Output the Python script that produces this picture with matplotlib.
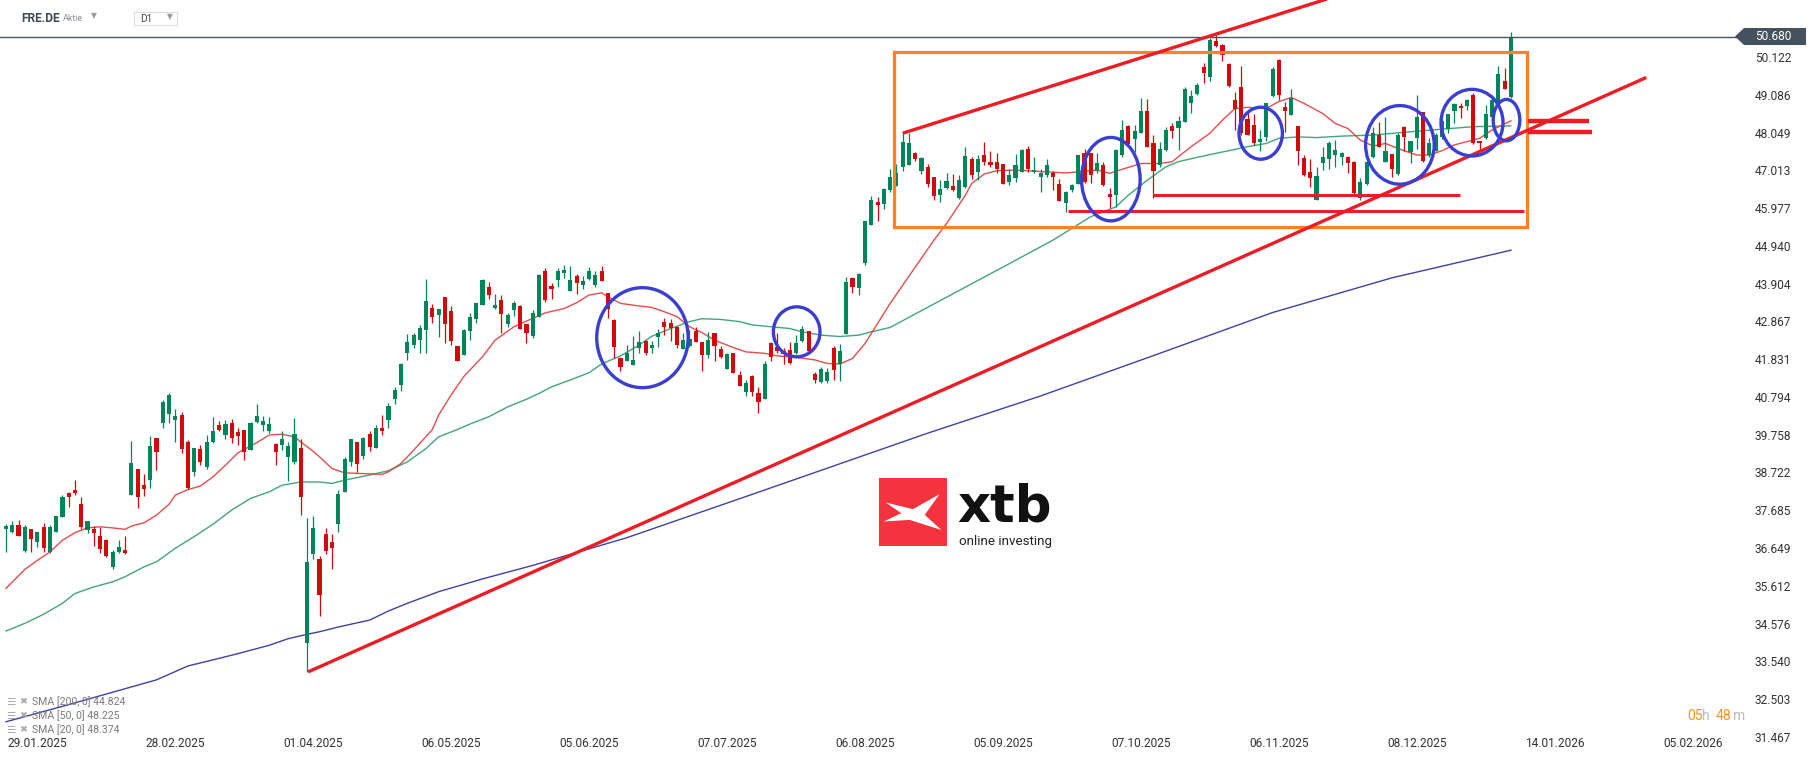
import matplotlib
matplotlib.use('Agg')
import matplotlib.pyplot as plt
from matplotlib.patches import Rectangle, Ellipse, Polygon

plt.rcParams['font.family'] = ['Roboto', 'DejaVu Sans']

# daily candles FRE.DE, index 0 = first bar on the chart
opens = [37.18, 37.09, 37.29, 36.57, 37.16, 36.81, 37.22, 36.54, 37.09, 37.50,
         38.17, 38.24, 37.85, 37.14, 37.17, 36.97, 36.87, 36.13, 36.53, 36.59,
         38.10, 38.81, 38.37, 38.52, 39.66, 40.08, 40.32, 40.17, 40.30, 39.55,
         38.74, 39.36, 38.88, 39.56, 40.02, 39.75, 40.09, 39.83, 39.88, 39.33,
         40.10, 40.03, 39.86, 39.50, 39.47, 39.15, 39.01, 39.38, 34.03, 36.48,
         36.34, 37.02, 36.80, 37.30, 38.19, 39.01, 39.55, 39.17, 39.77, 39.40,
         39.94, 40.16, 40.74, 41.13, 42.01, 42.21, 42.36, 42.63, 43.23, 43.04,
         43.53, 43.14, 42.19, 41.95, 42.61, 42.94, 43.33, 43.82, 43.24, 43.45,
         42.79, 43.18, 43.29, 42.79, 42.47, 43.00, 44.25, 43.84, 44.00, 44.20,
         43.71, 44.11, 43.87, 44.04, 43.87, 44.25, 43.64, 42.90, 41.86, 41.79,
         41.68, 42.15, 42.32, 42.15, 42.45, 42.85, 42.82, 42.72, 42.11, 42.20,
         42.60, 42.30, 41.95, 42.55, 42.12, 41.57, 42.00, 41.39, 40.94, 41.37,
         40.89, 40.75, 42.28, 42.17, 42.06, 42.08, 42.00, 42.34, 42.59, 41.42,
         41.21, 41.24, 42.13, 41.69, 42.53, 44.07, 43.79, 44.48, 45.52, 46.14,
         46.08, 46.47, 46.59, 47.11, 47.17, 47.48, 47.00, 47.11, 46.82, 46.33,
         46.52, 46.58, 46.24, 46.56, 47.31, 46.97, 47.43, 47.23, 47.23, 47.18,
         46.70, 46.79, 46.97, 47.59, 46.96, 46.84, 46.88, 46.95, 46.64, 46.12,
         46.47, 46.65, 47.50, 47.48, 47.00, 47.16, 46.36, 46.33, 47.43, 48.23,
         47.87, 48.04, 48.65, 47.77, 47.16, 47.57, 48.23, 48.16, 48.35, 48.85,
         49.11, 49.84, 49.58, 50.56, 50.45, 49.93, 48.94, 49.29, 48.41, 48.25,
         47.80, 47.93, 49.05, 50.04, 48.74, 48.53, 48.23, 47.36, 46.96, 46.21,
         47.20, 47.31, 47.43, 47.39, 47.39, 47.25, 46.24, 46.63, 47.37, 47.98,
         47.25, 47.45, 46.90, 48.19, 47.52, 47.89, 48.60, 47.43, 47.55, 47.92,
         48.14, 48.65, 48.78, 48.79, 49.08, 47.82, 47.89, 48.48, 48.90, 49.46,
         49.03]
highs = [37.32, 37.39, 37.41, 37.29, 37.17, 37.10, 37.34, 37.28, 37.53, 38.10,
         38.19, 38.51, 38.04, 37.39, 37.25, 37.23, 36.90, 36.59, 36.86, 36.97,
         39.58, 38.81, 38.67, 39.72, 39.67, 40.71, 40.91, 40.45, 40.38, 39.61,
         39.40, 39.47, 39.75, 40.23, 40.13, 40.16, 40.18, 39.93, 39.88, 40.11,
         40.60, 40.27, 40.25, 39.54, 39.87, 39.56, 40.22, 39.65, 37.48, 37.52,
         36.43, 37.20, 37.02, 38.24, 39.15, 39.64, 39.56, 39.70, 39.87, 40.02,
         40.30, 40.62, 41.07, 41.73, 42.52, 42.54, 42.78, 44.03, 43.34, 43.21,
         43.54, 43.29, 42.20, 42.67, 43.11, 43.38, 44.03, 43.94, 43.62, 43.58,
         43.09, 43.43, 43.31, 42.80, 43.18, 44.16, 44.34, 43.93, 44.34, 44.41,
         44.39, 44.18, 44.11, 44.37, 44.25, 44.39, 43.65, 42.92, 41.90, 42.22,
         42.46, 42.60, 42.35, 42.34, 42.67, 42.95, 42.92, 42.73, 42.56, 42.63,
         42.72, 42.31, 42.58, 42.56, 42.19, 42.01, 42.01, 41.51, 41.27, 41.39,
         41.07, 41.79, 42.29, 42.54, 42.13, 42.29, 42.49, 42.74, 42.61, 41.49,
         41.62, 41.58, 42.19, 42.24, 44.09, 44.09, 44.20, 45.63, 46.31, 46.29,
         46.52, 47.04, 47.18, 48.03, 48.03, 47.52, 47.39, 47.18, 46.84, 46.74,
         46.93, 46.91, 46.88, 47.66, 47.39, 47.43, 47.79, 47.55, 47.50, 47.19,
         47.06, 47.45, 47.61, 47.68, 47.39, 47.04, 47.31, 47.00, 46.77, 46.45,
         46.63, 47.44, 47.61, 47.50, 47.48, 47.25, 46.52, 47.59, 48.39, 48.25,
         48.25, 48.99, 48.96, 47.98, 47.80, 48.19, 48.30, 48.50, 49.31, 49.22,
         49.40, 49.97, 50.63, 50.73, 50.47, 49.97, 49.17, 49.87, 48.62, 48.56,
         48.12, 48.87, 49.86, 50.06, 48.90, 49.23, 48.24, 47.43, 47.31, 47.11,
         47.66, 47.82, 47.84, 47.52, 47.40, 47.27, 46.79, 47.27, 48.21, 48.35,
         48.48, 47.46, 48.04, 48.23, 47.83, 49.08, 48.62, 47.89, 48.03, 48.44,
         48.56, 48.85, 48.87, 48.96, 49.14, 47.83, 48.80, 49.08, 49.87, 49.81,
         50.80]
lows = [36.54, 37.05, 36.97, 36.54, 36.54, 36.68, 36.54, 36.52, 37.09, 37.49,
        37.78, 38.10, 37.17, 37.07, 36.70, 36.52, 36.41, 36.07, 36.50, 36.47,
        38.10, 37.75, 38.08, 38.30, 38.79, 39.93, 40.08, 39.56, 39.26, 38.26,
        38.62, 38.92, 38.81, 39.54, 39.87, 39.65, 39.52, 39.47, 39.06, 39.33,
        40.07, 39.87, 39.81, 38.92, 39.35, 38.48, 38.95, 37.55, 33.25, 36.34,
        34.78, 36.48, 36.07, 37.09, 38.18, 38.90, 38.73, 39.08, 39.32, 39.40,
        39.75, 39.93, 40.61, 40.95, 41.81, 42.15, 42.01, 42.01, 42.83, 42.45,
        42.28, 42.22, 41.78, 41.94, 42.35, 42.81, 43.32, 43.48, 43.21, 42.56,
        42.72, 43.02, 42.66, 42.28, 42.42, 43.00, 43.41, 43.48, 43.82, 44.05,
        43.71, 43.62, 43.75, 44.00, 43.80, 43.97, 42.95, 41.85, 41.51, 41.78,
        41.67, 42.01, 41.95, 42.01, 42.17, 42.49, 42.34, 42.13, 42.10, 42.17,
        42.30, 41.51, 41.85, 41.79, 41.85, 41.56, 41.45, 41.09, 40.82, 40.82,
        40.36, 40.74, 41.79, 41.99, 41.71, 41.70, 41.97, 42.31, 42.03, 41.17,
        41.17, 41.17, 41.27, 41.24, 42.52, 43.65, 43.59, 44.41, 45.51, 45.63,
        45.95, 46.42, 46.58, 47.00, 47.16, 47.28, 46.91, 46.56, 46.20, 46.15,
        46.51, 46.45, 46.23, 46.54, 46.77, 46.76, 47.16, 47.11, 46.93, 46.64,
        46.61, 46.70, 46.96, 46.97, 46.95, 46.42, 46.84, 46.47, 46.17, 45.88,
        46.42, 46.64, 46.67, 46.67, 46.95, 46.58, 45.99, 46.01, 47.39, 47.72,
        47.52, 48.03, 47.65, 46.24, 47.11, 47.55, 47.89, 47.57, 48.34, 48.59,
        49.08, 49.40, 49.47, 50.39, 50.02, 49.31, 48.12, 47.98, 47.97, 47.70,
        47.54, 47.83, 49.03, 48.94, 48.07, 48.52, 47.16, 46.87, 46.56, 46.20,
        47.02, 47.06, 47.11, 47.16, 46.93, 46.36, 46.21, 46.61, 47.36, 47.65,
        47.24, 46.84, 46.89, 47.55, 47.22, 47.61, 47.25, 47.37, 47.54, 47.86,
        48.03, 48.32, 48.46, 48.67, 47.73, 47.57, 47.86, 48.44, 48.85, 49.24,
        49.01]
closes = [37.26, 37.28, 36.97, 37.22, 36.90, 37.08, 36.65, 37.22, 37.52, 38.04,
          38.04, 38.16, 37.22, 37.39, 37.07, 36.63, 36.43, 36.53, 36.67, 36.50,
          38.99, 38.05, 38.26, 39.44, 39.29, 40.65, 40.84, 40.27, 39.36, 38.29,
          39.40, 39.01, 39.55, 39.85, 39.88, 40.05, 39.68, 39.72, 39.29, 40.09,
          40.27, 40.13, 40.05, 39.29, 39.63, 39.46, 39.79, 38.05, 36.26, 37.21,
          35.37, 36.57, 36.65, 38.13, 39.09, 39.63, 38.95, 39.68, 39.43, 39.94,
          39.87, 40.54, 40.99, 41.71, 42.30, 42.49, 42.68, 43.42, 42.98, 43.20,
          42.80, 42.34, 41.79, 42.63, 42.98, 43.36, 44.00, 43.60, 43.32, 43.08,
          43.05, 43.36, 42.67, 42.56, 43.11, 44.14, 43.45, 43.76, 44.25, 44.28,
          44.00, 43.93, 43.97, 44.25, 44.14, 43.98, 43.20, 42.17, 41.62, 41.99,
          41.81, 42.30, 42.00, 42.22, 42.56, 42.72, 42.68, 42.22, 42.35, 42.37,
          42.31, 41.95, 42.35, 42.20, 41.90, 41.96, 41.46, 41.10, 41.17, 40.92,
          40.66, 41.70, 41.89, 42.06, 41.97, 41.73, 42.28, 42.65, 42.06, 41.26,
          41.56, 41.49, 41.54, 42.05, 43.95, 43.82, 44.18, 45.62, 46.20, 46.07,
          46.50, 46.84, 46.93, 47.79, 47.75, 47.31, 47.36, 46.64, 46.32, 46.50,
          46.72, 46.47, 46.74, 47.40, 46.88, 47.31, 47.25, 47.17, 47.05, 46.65,
          46.88, 47.16, 47.57, 47.05, 47.02, 46.93, 47.16, 46.84, 46.18, 46.43,
          46.61, 47.43, 46.70, 46.88, 47.20, 46.61, 46.29, 47.57, 48.12, 47.73,
          48.09, 48.65, 47.66, 47.00, 47.59, 48.12, 48.09, 48.37, 49.23, 49.05,
          49.35, 49.67, 50.59, 50.42, 50.18, 49.33, 48.69, 48.03, 47.98, 47.75,
          47.87, 48.85, 49.78, 49.08, 48.65, 48.99, 47.55, 46.88, 46.79, 46.85,
          47.39, 47.75, 47.57, 47.48, 47.22, 46.38, 46.68, 47.25, 48.03, 47.66,
          47.54, 47.04, 47.98, 47.92, 47.82, 48.47, 47.28, 47.75, 47.98, 48.37,
          48.55, 48.82, 48.71, 48.94, 47.77, 47.75, 48.57, 48.94, 49.65, 49.24,
          50.68]

last_price = 50.68

# moving averages (bar index, value)
sma20_x = [0, 3, 5, 7, 9, 11, 13, 15, 17, 19, 20, 22, 24, 26, 27, 29, 31, 33, 35, 37,
           40, 42, 44, 46, 47, 49, 50, 52, 54, 57, 60, 61, 63, 65, 68, 69, 71, 73, 76, 78,
           81, 84, 86, 89, 91, 93, 95, 96, 98, 101, 103, 105, 107, 109, 111, 113, 116, 118, 121, 123,
           126, 129, 131, 133, 135, 137, 139, 141, 148, 150, 153, 154, 156, 158, 161, 163, 166, 169, 171, 174,
           176, 178, 181, 184, 186, 187, 189, 192, 194, 196, 198, 201, 203, 205, 207, 210, 212, 214, 216, 218,
           220, 222, 225, 227, 229, 231, 233, 235, 237, 240]
sma20_y = [35.54, 36.06, 36.31, 36.54, 36.86, 37.07, 37.20, 37.23, 37.20, 37.16,
           37.25, 37.34, 37.55, 37.85, 38.10, 38.25, 38.35, 38.60, 38.92, 39.26,
           39.54, 39.75, 39.77, 39.70, 39.56, 39.30, 39.15, 38.83, 38.71, 38.69,
           38.67, 38.74, 38.97, 39.33, 39.90, 40.30, 40.85, 41.35, 41.90, 42.35,
           42.72, 42.95, 43.10, 43.22, 43.38, 43.59, 43.65, 43.54, 43.36, 43.29,
           43.25, 43.13, 43.00, 42.72, 42.56, 42.35, 42.15, 42.03, 41.99, 41.92,
           41.88, 41.81, 41.71, 41.70, 41.85, 42.26, 42.81, 43.36, 45.10, 45.55,
           46.33, 46.65, 46.91, 47.00, 47.02, 47.00, 46.97, 46.94, 46.97, 47.02,
           46.93, 47.04, 47.20, 47.20, 47.25, 47.39, 47.66, 48.03, 48.39, 48.71,
           48.74, 48.71, 48.90, 49.01, 48.85, 48.57, 48.30, 48.16, 47.84, 47.68,
           47.75, 47.61, 47.43, 47.43, 47.55, 47.71, 47.80, 47.89, 48.12, 48.37]

sma50_x = [0, 3, 6, 9, 11, 14, 17, 19, 22, 24, 27, 30, 33, 36, 39, 42, 44, 47, 50, 52,
           54, 58, 61, 64, 67, 69, 72, 74, 77, 80, 83, 85, 87, 90, 93, 95, 98, 101, 103, 106,
           109, 111, 114, 117, 119, 122, 125, 127, 130, 133, 136, 138, 141, 145, 150, 155, 160, 167, 170, 173,
           177, 179, 182, 185, 187, 190, 193, 195, 198, 201, 203, 206, 209, 213, 218, 226, 234, 240]
sma50_y = [34.37, 34.58, 34.83, 35.13, 35.40, 35.58, 35.72, 35.86, 36.13, 36.27,
           36.64, 36.96, 37.30, 37.69, 38.01, 38.19, 38.37, 38.46, 38.46, 38.42,
           38.51, 38.65, 38.77, 39.01, 39.38, 39.70, 39.90, 40.05, 40.25, 40.52,
           40.73, 40.89, 41.07, 41.26, 41.46, 41.70, 41.92, 42.22, 42.46, 42.67,
           42.86, 42.94, 42.92, 42.86, 42.77, 42.72, 42.67, 42.58, 42.49, 42.45,
           42.49, 42.58, 42.70, 43.07, 43.53, 43.99, 44.45, 45.10, 45.42, 45.74,
           46.01, 46.33, 46.74, 47.11, 47.25, 47.37, 47.48, 47.55, 47.66, 47.75,
           47.89, 47.93, 47.91, 47.95, 47.98, 48.10, 48.21, 48.23]

sma200_x = [0, 10, 24, 29, 34, 37, 42, 45, 48, 50, 53, 58, 61, 64, 69, 76, 84, 99, 119, 147,
            165, 184, 202, 221, 240]
sma200_y = [31.88, 32.35, 33.03, 33.41, 33.62, 33.75, 33.98, 34.16, 34.28, 34.35,
            34.48, 34.67, 34.92, 35.13, 35.45, 35.80, 36.17, 36.93, 38.12, 39.80,
            40.82, 41.99, 43.11, 44.06, 44.82]

sma_legend = ['SMA [200, 0] 44.824', 'SMA [50, 0] 48.225', 'SMA [20, 0] 48.374']

date_ticks = [5, 27, 49, 71, 93, 115, 137, 159, 181, 203, 225, 247, 269]
date_labels = ['29.01.2025', '28.02.2025', '01.04.2025', '06.05.2025', '05.06.2025',
               '07.07.2025', '06.08.2025', '05.09.2025', '07.10.2025', '06.11.2025',
               '08.12.2025', '14.01.2026', '05.02.2026']
price_ticks = [50.122, 49.086, 48.049, 47.013, 45.977, 44.940, 43.904, 42.867, 41.831,
               40.794, 39.758, 38.722, 37.685, 36.649, 35.612, 34.576, 33.540, 32.503, 31.467]

# drawn annotations (bar index / price)
box_x = [141.6, 242.5]
box_y = [45.45, 50.25]
trend_up_x = [48.2, 261.6]
trend_up_y = [33.25, 49.56]
channel_x = [143.0, 215.0]
channel_y = [48.03, 51.95]
flat_lines = [(183.0, 231.9, 46.335, 2.2), (169.4, 242.1, 45.90, 2.2),
              (242.7, 252.5, 48.37, 3.2), (242.7, 252.9, 48.06, 3.2)]
circles = [(101.5, 42.42, 14.58, 2.744), (126.1, 42.58, 7.43, 1.372),
           (176.2, 46.77, 9.35, 2.289), (200.1, 48.03, 6.92, 1.427),
           (222.3, 47.71, 10.94, 2.157), (233.8, 48.32, 9.89, 1.828),
           (239.3, 48.39, 4.24, 1.136)]

GREEN = '#00845A'
RED = '#D20A0A'
W, H = 1815, 761


def fpx(x, y):
    # pixel (from top-left) -> figure fraction
    return x / W, 1 - y / H


fig = plt.figure(figsize=(W / 100, H / 100), dpi=100, facecolor='white')
ax = fig.add_axes([0, 0, 1, 1])
ax.set_xlim(-0.957, 288.5)
ax.set_ylim(30.803, 51.686)
ax.set_facecolor('white')
for s in ax.spines.values():
    s.set_visible(False)

# moving averages
ax.plot(sma200_x, sma200_y, color='#3E42A8', lw=1.0, zorder=1)
ax.plot(sma50_x, sma50_y, color='#2E9C6C', lw=1.0, alpha=0.9, zorder=1)
ax.plot(sma20_x, sma20_y, color='#E23A3A', lw=1.0, alpha=0.9, zorder=1)

# candles
for i, (o, h, l, c) in enumerate(zip(opens, highs, lows, closes)):
    col = GREEN if c >= o else RED
    ax.vlines(i, l, h, color=col, lw=0.9, zorder=2)
    ax.bar(i, max(abs(c - o), 0.03), bottom=min(o, c), width=0.66,
           color=col, linewidth=0, zorder=2)

# annotations
ax.add_patch(Rectangle((box_x[0], box_y[0]), box_x[1] - box_x[0], box_y[1] - box_y[0],
                       fill=False, edgecolor='#FF8125', lw=2.3, zorder=4))
ax.plot(trend_up_x, trend_up_y, color='#EE1C25', lw=2.4, zorder=4, solid_capstyle='butt')
ax.plot(channel_x, channel_y, color='#EE1C25', lw=2.4, zorder=4, solid_capstyle='butt')
for x0, x1, y, lw in flat_lines:
    ax.plot([x0, x1], [y, y], color='#EE1C25', lw=lw, zorder=4, solid_capstyle='butt')
for cx, cy, w, h in circles:
    ax.add_patch(Ellipse((cx, cy), w, h, fill=False, edgecolor='#3B3FD0', lw=2.4, zorder=5))

# last price line
ax.axhline(last_price, xmin=0, xmax=1742 / W, color='#4A5762', lw=1.0, zorder=3)

# axes labels
ax.yaxis.tick_right()
ax.set_yticks(price_ticks)
ax.set_yticklabels([f'{v:.3f}' for v in price_ticks])
ax.tick_params(axis='y', length=0, pad=-(W - 1755) * 0.72, labelsize=8.6, labelcolor='#333333')
ax.set_xticks(date_ticks)
ax.set_xticklabels(date_labels)
ax.tick_params(axis='x', length=0, pad=-(H - 737) * 0.72, labelsize=8.6, labelcolor='#333333')

# price tag
tag = [fpx(1735, 36.5), fpx(1744, 28), fpx(1806, 28), fpx(1806, 45), fpx(1744, 45)]
fig.patches.append(Polygon(tag, closed=True, transform=fig.transFigure,
                           facecolor='#44525E', edgecolor='none', zorder=6))
fig.text(*fpx(1755, 37), f'{last_price:.3f}', color='white', fontsize=8.6,
         ha='left', va='center', zorder=7)

# header
fig.text(*fpx(21, 18), 'FRE.DE', fontsize=8.6, fontweight='bold', color='#3C4853', va='center')
fig.text(*fpx(63, 18.5), 'Aktie', fontsize=6.4, color='#8A8F94', va='center')
fig.text(*fpx(94, 16), '\u25BC', fontsize=5.5, color='#9A9A9A', va='center', ha='center',
         family=['DejaVu Sans'])
fig.patches.append(Rectangle(fpx(134, 25), 43 / W, 13 / H, transform=fig.transFigure,
                             facecolor='white', edgecolor='#DDDDDD', lw=0.8))
fig.text(*fpx(140, 19), 'D1', fontsize=7.2, color='#444444', va='center')
fig.text(*fpx(170, 16.5), '\u25BC', fontsize=5.5, color='#9A9A9A', va='center', ha='center',
         family=['DejaVu Sans'])

# indicator legend
for k, txt in enumerate(sma_legend):
    yy = 702 + k * 14
    fig.text(*fpx(6, yy), '\u2630', fontsize=7.5, color='#AAAAAA', va='center',
             family=['DejaVu Sans'])
    fig.text(*fpx(19, yy), '\u2716', fontsize=6.8, color='#AAAAAA', va='center',
             family=['DejaVu Sans'])
    fig.text(*fpx(32, yy), txt, fontsize=7.6, color='#7A7A7A', va='center')

# session countdown
fig.text(*fpx(1687, 716), '05', fontsize=10, color='#F7941D', va='center')
fig.text(*fpx(1702, 716), 'h', fontsize=10, color='#BBBBBB', va='center')
fig.text(*fpx(1716, 716), '48', fontsize=10, color='#F7941D', va='center')
fig.text(*fpx(1733, 716), 'm', fontsize=10, color='#BBBBBB', va='center')

# xtb watermark
fig.patches.append(Rectangle(fpx(879, 546), 68 / W, 68 / H, transform=fig.transFigure,
                             facecolor='#F5333F', edgecolor='none', zorder=6))
shape = [(0.098, 0.36), (0.5, 0.458), (0.892, 0.236), (0.672, 0.542),
         (0.917, 0.764), (0.451, 0.616), (0.069, 0.640), (0.328, 0.517)]
fig.patches.append(Polygon([fpx(879 + 68 * u, 478 + 68 * v) for u, v in shape], closed=True,
                           transform=fig.transFigure, facecolor='white',
                           edgecolor='none', zorder=7))
fig.text(*fpx(957, 521), 'xtb', fontsize=37, fontweight='bold', color='#111111',
         va='baseline', ha='left', zorder=7, family=['DejaVu Sans'])
fig.text(*fpx(959, 541), 'online investing', fontsize=9.6, color='#222222',
         va='center', ha='left', zorder=7)

fig.savefig('out.png', dpi=100, facecolor='white')
